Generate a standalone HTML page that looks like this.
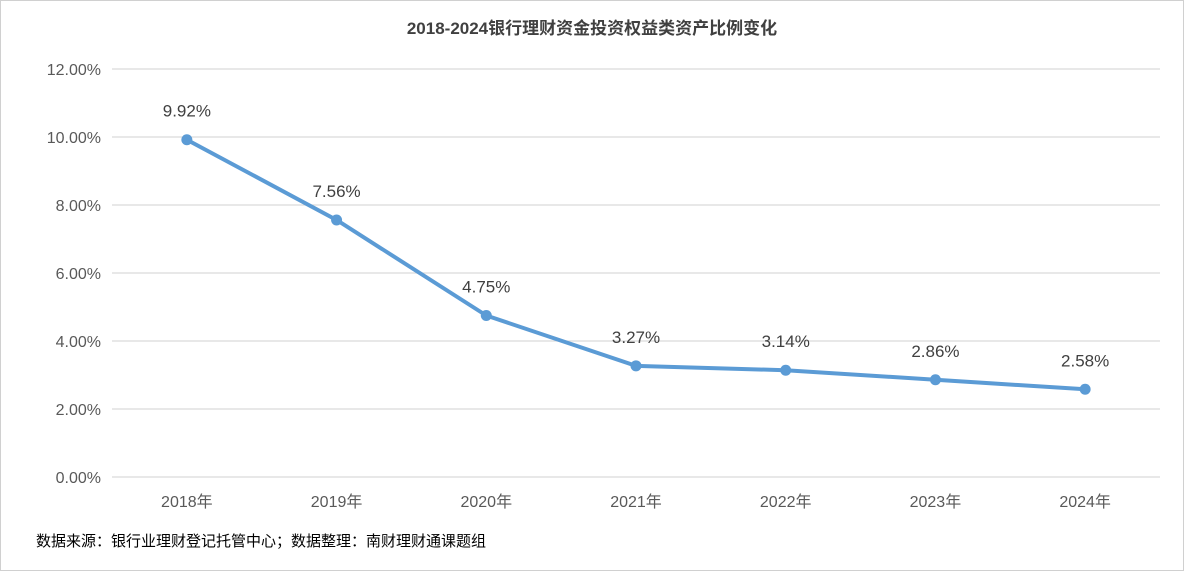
<!DOCTYPE html>
<html><head><meta charset="utf-8">
<style>
html,body{margin:0;padding:0;background:#fff;}
body{width:1184px;height:571px;overflow:hidden;font-family:"Liberation Sans","Noto Sans CJK SC",sans-serif;}
#frame{position:absolute;left:0;top:0;width:1182px;height:569px;border:1px solid #d0d0d0;}
</style></head>
<body>
<div id="frame"></div>
<svg id="chart" width="1184" height="571" style="position:absolute;left:0;top:0">
<text x="592" y="34" text-anchor="middle" font-size="17" font-weight="bold" fill="#404040">2018-2024银行理财资金投资权益类资产比例变化</text>
<g id="grid"></g>
<g id="yticks"></g>
<g id="xticks"></g>
<g id="series"></g>
<text x="36" y="546" font-size="15" fill="#000">数据来源：银行业理财登记托管中心；数据整理：南财理财通课题组</text>
</svg>
<script>
const categories = ["2018年","2019年","2020年","2021年","2022年","2023年","2024年"];
const values = [9.92,7.56,4.75,3.27,3.14,2.86,2.58];
const valueLabels = ["9.92%","7.56%","4.75%","3.27%","3.14%","2.86%","2.58%"];
const yTicks = [0,2,4,6,8,10,12];
const yTickLabels = ["0.00%","2.00%","4.00%","6.00%","8.00%","10.00%","12.00%"];

const NS="http://www.w3.org/2000/svg";
const plotLeft=112,plotRight=1160,plotTop=69,plotBottom=477,yMax=12;
const step=(plotRight-plotLeft)/categories.length;
const xPos=i=>plotLeft+step*(i+0.5);
const yPos=v=>plotBottom-(v/yMax)*(plotBottom-plotTop);
function mk(tag,attrs,parent){const e=document.createElementNS(NS,tag);for(const k in attrs)e.setAttribute(k,attrs[k]);parent.appendChild(e);return e;}
const grid=document.getElementById('grid'),yt=document.getElementById('yticks'),xt=document.getElementById('xticks'),ser=document.getElementById('series');
yTicks.forEach((t,i)=>{
  const l=mk('line',{x1:plotLeft,x2:plotRight,y1:yPos(t),y2:yPos(t),stroke:'#d9d9d9','stroke-width':1.3},grid);
  
  
  const tx=mk('text',{x:101,y:yPos(t)+6,'text-anchor':'end','font-size':16,fill:'#595959'},yt);
  tx.textContent=yTickLabels[i];
  
  
});
categories.forEach((c,i)=>{
  const tx=mk('text',{x:xPos(i),y:507,'text-anchor':'middle','font-size':16,fill:'#595959'},xt);
  tx.textContent=c;
  
  
});
const pts=values.map((v,i)=>xPos(i)+','+yPos(v)).join(' ');
const pl=mk('polyline',{points:pts,fill:'none',stroke:'#5b9bd5','stroke-width':4,'stroke-linejoin':'round','stroke-linecap':'round'},ser);


values.forEach((v,i)=>{
  const c=mk('circle',{cx:xPos(i),cy:yPos(v),r:5.5,fill:'#5b9bd5'},ser);
  
  
  const t=mk('text',{x:xPos(i),y:yPos(v)-23,'text-anchor':'middle','font-size':17,fill:'#404040'},ser);
  t.textContent=valueLabels[i];
  
  
});
</script>
</body></html>
